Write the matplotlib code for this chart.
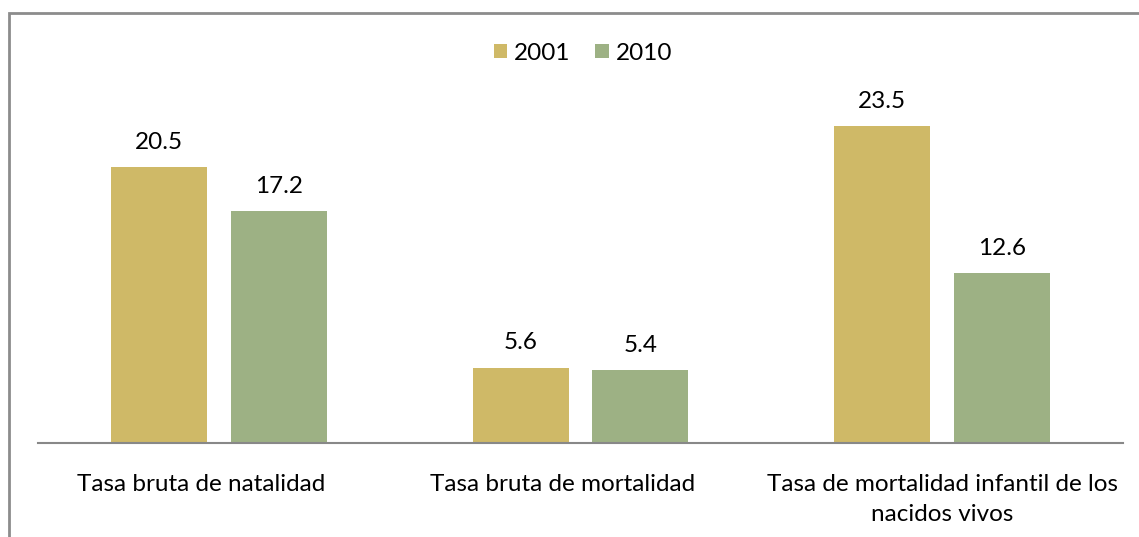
import matplotlib
matplotlib.use("Agg")
import matplotlib.pyplot as plt
import matplotlib.transforms as mtransforms
import numpy as np
from matplotlib.patches import Rectangle

categories = ["Tasa bruta de natalidad", "Tasa bruta de mortalidad",
              "Tasa de mortalidad infantil de los\nnacidos vivos"]
series_names = ["2001", "2010"]
values_2001 = [20.5, 5.6, 23.5]
values_2010 = [17.2, 5.4, 12.6]
colors = ["#CFB967", "#9DB184"]

plt.rcParams['font.family'] = ['Lato', 'DejaVu Sans']
FS = 17.5

W, H = 1139, 537
fig = plt.figure(figsize=(W / 100, H / 100), dpi=100)
ax = fig.add_axes([38 / W, (H - 443) / H, (1123 - 38) / W, (443 - 106) / H])

x = np.arange(len(categories))
bw = 0.265
gap = 24 / 361.7
offsets = [-(bw + gap) / 2, (bw + gap) / 2]
for vals, name, col, off in zip([values_2001, values_2010], series_names, colors, offsets):
    bars = ax.bar(x + off, vals, width=bw, color=col, label=name)
    for b, v in zip(bars, vals):
        ax.text(b.get_x() + b.get_width() / 2, v + 1.05, f"{v:.1f}",
                ha="center", va="bottom", fontsize=FS, color="#000000")

ax.set_xlim(-0.5, len(categories) - 0.5)
ax.set_ylim(0, 25)
ax.set_yticks([])
ax.set_xticks(x)
ax.set_xticklabels(categories, fontsize=FS, linespacing=1.55)
ax.tick_params(axis="x", length=0, pad=22)
# single-line labels sit slightly left of the group centre, as in the original
shift = mtransforms.ScaledTranslation(-18 / 100, 0, fig.dpi_scale_trans)
for lbl in ax.get_xticklabels()[:2]:
    lbl.set_transform(lbl.get_transform() + shift)
for s in ["top", "right", "left"]:
    ax.spines[s].set_visible(False)
ax.spines["bottom"].set_color("#888888")
ax.spines["bottom"].set_linewidth(1.5)

leg = fig.legend(loc="center", bbox_to_anchor=(583 / W, 1 - 53 / H), ncol=2, frameon=False,
                 fontsize=FS, handlelength=0.55, handleheight=0.55, handletextpad=0.3,
                 columnspacing=1.0)

fig.patches.append(Rectangle((8.5 / W, -0.1), 1.2, 1 - 12.5 / H + 0.1, transform=fig.transFigure,
                             fill=False, edgecolor="#8C8C8C", linewidth=2))

fig.savefig("out.png", dpi=100)
